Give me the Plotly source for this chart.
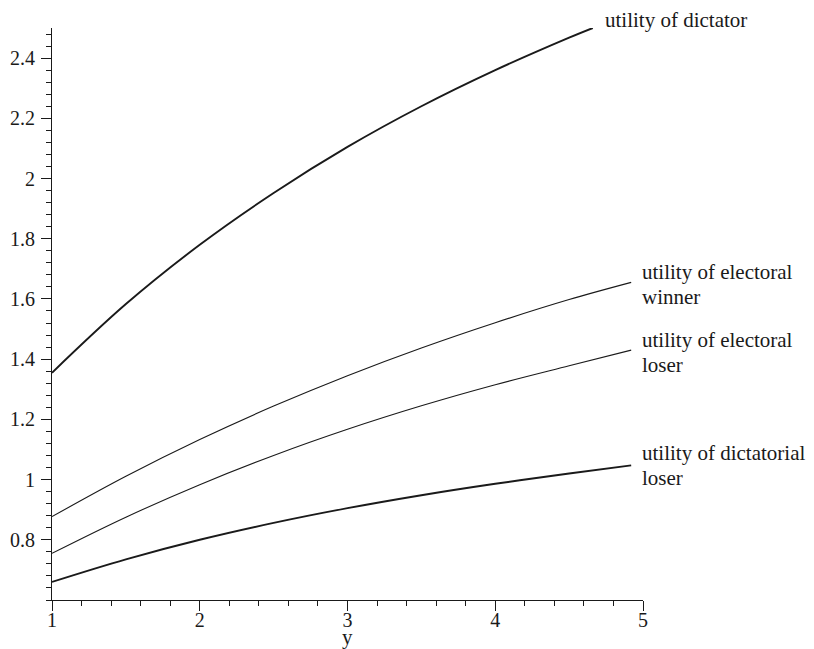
import plotly.graph_objects as go

# x values (income y) and series
x_main = [1, 1.5, 2, 2.5, 3, 3.5, 4, 4.5, 4.92]
x_dictator = [1, 1.5, 2, 2.5, 3, 3.5, 4, 4.5, 4.66]

dictator = [1.355, 1.583, 1.780, 1.952, 2.105, 2.240, 2.360, 2.468, 2.5]
electoral_winner = [0.877, 1.011, 1.133, 1.244, 1.345, 1.437, 1.521, 1.598, 1.655]
electoral_loser = [0.755, 0.875, 0.983, 1.080, 1.167, 1.245, 1.315, 1.378, 1.43]
dictatorial_loser = [0.66, 0.735, 0.80, 0.856, 0.905, 0.948, 0.986, 1.020, 1.047]

x_ticks = [1, 2, 3, 4, 5]
y_ticks = [0.8, 1.0, 1.2, 1.4, 1.6, 1.8, 2.0, 2.2, 2.4]
y_tick_labels = ["0.8", "1", "1.2", "1.4", "1.6", "1.8", "2", "2.2", "2.4"]

FONT = "Liberation Serif"
INK = "#1a1a1a"
FS = 21
TFS = 20

fig = go.Figure()
series = [
    (x_dictator, dictator, 1.9),
    (x_main, electoral_winner, 1.1),
    (x_main, electoral_loser, 1.1),
    (x_main, dictatorial_loser, 1.9),
]
for xs, ys, w in series:
    fig.add_trace(go.Scatter(x=xs, y=ys, mode="lines",
                             line=dict(color=INK, width=w, shape="spline", smoothing=1.0),
                             showlegend=False, hoverinfo="skip"))

def label(text, x, y, **kw):
    fig.add_annotation(x=x, y=y, text=text, showarrow=False, xanchor="left", xshift=-3,
                       yanchor="middle", font=dict(family=FONT, size=FS, color=INK), **kw)

# curve labels (one annotation per text line)
label("utility of dictator", 4.75, 1.0, yref="paper", yshift=8)
label("utility of electoral", 5.0, 1.689)
label("winner", 5.0, 1.606)
label("utility of electoral", 5.0, 1.4635)
label("loser", 5.0, 1.380)
label("utility of dictatorial", 5.0, 1.088)
label("loser", 5.0, 1.005)

# axis title
fig.add_annotation(x=3, y=0, xref="x", yref="paper", text="y", showarrow=False,
                   yshift=-37, yanchor="middle", font=dict(family=FONT, size=FS, color=INK))

# the page body adds an 8px offset, so the figure is sized to fit the window
fig.update_layout(
    width=806, height=641,
    margin=dict(l=44, r=171, t=20, b=49),
    paper_bgcolor="white", plot_bgcolor="white",
    font=dict(family=FONT, size=FS, color=INK),
)
fig.update_xaxes(range=[1, 5], tickmode="array", tickvals=x_ticks, automargin=False,
                 showgrid=False, zeroline=False, showline=True, linecolor=INK, linewidth=1,
                 ticks="outside", ticklen=10, tickcolor=INK, tickwidth=1,
                 ticklabelstandoff=-8,
                 minor=dict(tickmode="linear", tick0=1, dtick=0.2, ticks="outside",
                            ticklen=5, tickcolor=INK, tickwidth=1, showgrid=False),
                 tickfont=dict(family=FONT, size=TFS, color=INK))
fig.update_yaxes(range=[0.6, 2.5], tickmode="array", tickvals=y_ticks, ticktext=y_tick_labels,
                 automargin=False, ticklabelstandoff=2,
                 showgrid=False, zeroline=False, showline=True, linecolor=INK, linewidth=1,
                 ticks="outside", ticklen=10, tickcolor=INK, tickwidth=1,
                 minor=dict(tickmode="linear", tick0=0.6, dtick=0.04, ticks="outside",
                            ticklen=5, tickcolor=INK, tickwidth=1, showgrid=False),
                 tickfont=dict(family=FONT, size=TFS, color=INK))

fig.write_html("out.html")
